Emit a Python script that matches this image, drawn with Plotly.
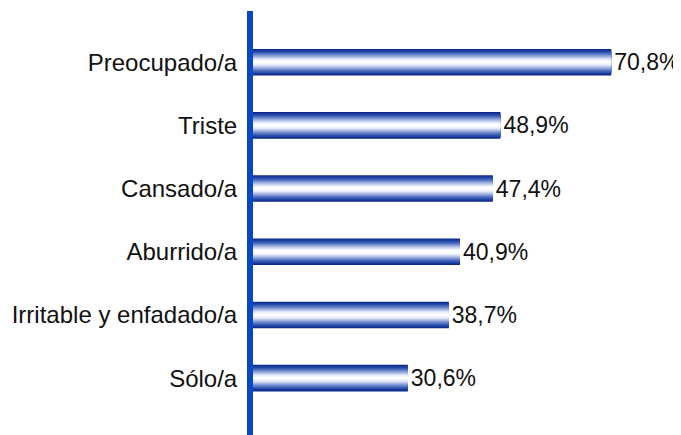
import plotly.graph_objects as go

categorias = ["Preocupado/a", "Triste", "Cansado/a", "Aburrido/a",
              "Irritable y enfadado/a", "Sólo/a"]
valores = [70.8, 48.9, 47.4, 40.9, 38.7, 30.6]
etiquetas = ["70,8%", "48,9%", "47,4%", "40,9%", "38,7%", "30,6%"]

# degradado vertical: borde azul oscuro -> centro blanco
paradas = [(10, 40, 140), (40, 75, 170), (95, 125, 200), (165, 180, 225), (230, 235, 250), (255, 255, 255)]
n_capas = 16
ancho_barra = 0.42


def color_en(t):
    pos = t * (len(paradas) - 1)
    i = min(int(pos), len(paradas) - 2)
    f = pos - i
    c = [round(paradas[i][k] + (paradas[i + 1][k] - paradas[i][k]) * f) for k in range(3)]
    return f"rgb({c[0]},{c[1]},{c[2]})"


fig = go.Figure()
for k in range(n_capas):
    t = k / (n_capas - 1)
    w = ancho_barra * (1 - k / n_capas)
    ultima = k == 0
    fig.add_trace(go.Bar(
        x=valores, y=categorias, orientation="h",
        width=w,
        marker=dict(color=color_en(t), line=dict(width=0)),
        text=etiquetas if ultima else None,
        textposition="outside" if ultima else "none",
        textfont=dict(size=23, color="#111111", family="Liberation Sans, Arial"),
        cliponaxis=False,
        hoverinfo="skip" if not ultima else None,
        showlegend=False,
    ))

# la página deja 8px de margen en el body: se compensa aquí
fig.update_layout(
    barmode="overlay",
    width=673, height=427,
    margin=dict(l=245, r=0, t=3, b=0),
    plot_bgcolor="white", paper_bgcolor="white",
    font=dict(family="Liberation Sans, Arial", size=24, color="#111111"),
    xaxis=dict(range=[0, 84.6], visible=False, showgrid=False, zeroline=False, automargin=False),
    yaxis=dict(
        type="category",
        categoryarray=categorias,
        range=[5.9, -0.81],
        automargin=False,
        showline=True, linecolor="#0a47c2", linewidth=6,
        showgrid=False, zeroline=False, ticks="",
        ticklabelstandoff=5,
        tickfont=dict(size=24, color="#111111"),
    ),
)

fig.write_html("out.html")
